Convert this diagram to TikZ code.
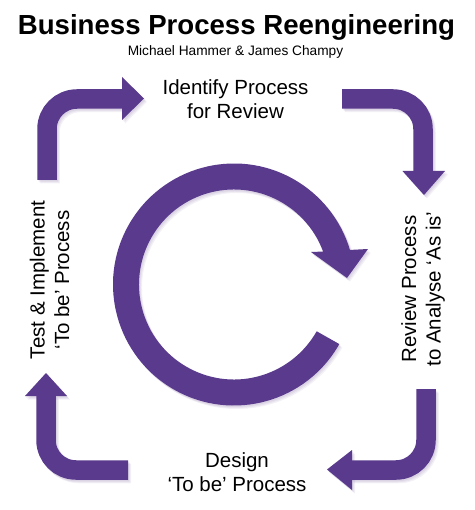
\documentclass[tikz,border=0pt]{standalone}
\usepackage{fontspec}
\setmainfont{Liberation Sans}
\usetikzlibrary{calc}
\definecolor{bpr}{RGB}{90,58,141}
\begin{document}
\begin{tikzpicture}[x=1pt,y=1pt,
  band/.style={line width=19.5pt, draw=#1, rounded corners=30pt},
  lbl/.style={font=\fontsize{20.5}{24.5}\selectfont, align=center, inner sep=0pt},
  shapes/.code={}]
\useasboundingbox (0,0) rectangle (474,-510);
\fill[white] (0,0) rectangle (474,-510);

% titles
\node[font=\bfseries\fontsize{27.6}{30}\selectfont, anchor=base, inner sep=0pt] (title) at (236.5,-35) {Business Process Reengineering};
\node[font=\fontsize{13.7}{16}\selectfont, anchor=base, inner sep=0pt] (authors) at (235.5,-56) {Michael Hammer \& James Champy};

% labels
\node[lbl] (identify) at (235.5,-99) {Identify Process\\for Review};
\node[lbl] (design) at (237,-472) {Design\\‘To be’ Process};
\node[lbl, rotate=90] (test) at (49.5,-280) {Test \& Implement\\‘To be’ Process};
\node[lbl, rotate=90] (review) at (423,-289) {Review Process\\to Analyse ‘As is’};

% anchor coordinates
\coordinate (circ) at (234,-284.5);
\coordinate (tlS) at (47,-180);   \coordinate (tlC) at (47,-99);   \coordinate (tlE) at (123,-99);
\coordinate (trS) at (342,-99);   \coordinate (trC) at (423,-99);  \coordinate (trE) at (423,-172);
\coordinate (brS) at (426,-389);  \coordinate (brC) at (426,-470); \coordinate (brE) at (351,-470);
\coordinate (blS) at (128,-470);  \coordinate (blC) at (46,-470);  \coordinate (blE) at (46,-395);

\foreach \dx/\dy/\op in {3/-3.5/0.07, 2/-2.5/0.08, 1/-1.5/0.08, 0/0/1}{
\begin{scope}[transform canvas={shift={(\dx pt,\dy pt)}}, opacity=\op]
  % central cycle arrow
  \fill[bpr] ($(circ)+(-29.5:121)$) arc[start angle=-29.5, end angle=-343.4, radius=121]
     -- (368,-249) -- (347,-278) -- (311,-252)
     -- ($(circ)+(-339.7:95)$) arc[start angle=-339.7, end angle=-29.5, radius=95] -- cycle;
  % corner arrows
  \draw[band=bpr] (tlS) -- (tlC) -- (tlE);
  \fill[bpr] (122,-77) -- (144,-98.5) -- (122,-120) -- cycle;
  \draw[band=bpr] (trS) -- (trC) -- (trE);
  \fill[bpr] (402.5,-171) -- (424,-195) -- (445,-171) -- cycle;
  \draw[band=bpr] (brS) -- (brC) -- (brE);
  \fill[bpr] (352,-450) -- (327,-469.5) -- (352,-490) -- cycle;
  \draw[band=bpr] (blS) -- (blC) -- (blE);
  \fill[bpr] (25,-396) -- (46,-373) -- (67,-396) -- cycle;
\end{scope}
}
\end{tikzpicture}
\end{document}
